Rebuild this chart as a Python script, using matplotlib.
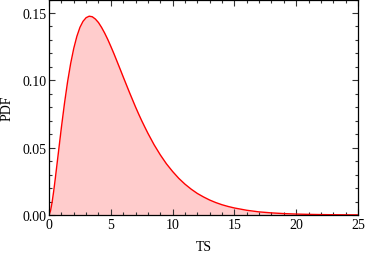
import matplotlib
matplotlib.use("Agg")
import matplotlib.pyplot as plt
from matplotlib.ticker import MultipleLocator

# values
ts = [0, 0.125, 0.25, 0.375, 0.5, 0.75, 1, 1.25, 1.5, 1.75, 2, 2.25, 2.5,
      2.75, 3, 3.25, 3.5, 3.75, 4, 4.25, 4.5, 4.75, 5, 5.25, 5.5, 5.75, 6,
      6.25, 6.5, 6.75, 7, 7.25, 7.5, 7.75, 8, 8.5, 9, 9.5, 10, 10.5, 11,
      11.5, 12, 12.5, 13, 13.5, 14, 14.5, 15, 16, 17, 18, 19, 20, 21, 22,
      23, 24, 25]
pdf = [0, 0.00326, 0.0096, 0.0176, 0.0266, 0.0458, 0.0650, 0.0829, 0.0989,
       0.1125, 0.1237, 0.1326, 0.1393, 0.1438, 0.1465, 0.1476, 0.1472,
       0.1455, 0.1429, 0.1393, 0.1351, 0.1304, 0.1252, 0.1198, 0.1141,
       0.1084, 0.1026, 0.0969, 0.0912, 0.0857, 0.0802, 0.0750, 0.0700,
       0.0653, 0.0607, 0.0522, 0.0447, 0.0380, 0.0323, 0.0272, 0.0229,
       0.0192, 0.0160, 0.0134, 0.0111, 0.0092, 0.0076, 0.0063, 0.0052,
       0.0035, 0.0023, 0.00156, 0.00103, 0.00068, 0.00045, 0.00029,
       0.00019, 0.000125, 0.000081]

plt.rcParams['font.family'] = ['Liberation Serif', 'DejaVu Serif']
plt.rcParams['font.size'] = 10

fig = plt.figure(figsize=(3.66, 2.55), dpi=100)
ax = fig.add_axes([0.134, 0.153, 0.844, 0.845])

ax.fill_between(ts, pdf, 0, color='#ffcccc', linewidth=0)
ax.plot(ts, pdf, color='red', linewidth=1.0)

ax.set_xlim(0, 25)
ax.set_ylim(0, 0.16)
ax.xaxis.set_major_locator(MultipleLocator(5))
ax.xaxis.set_minor_locator(MultipleLocator(1))
ax.yaxis.set_major_locator(MultipleLocator(0.05))
ax.yaxis.set_minor_locator(MultipleLocator(0.01))
ax.yaxis.set_major_formatter(lambda v, p: f"{v:.2f}")
ax.tick_params(which='both', direction='in', top=True, right=True,
               color='#333333', width=0.8, pad=2)
ax.tick_params(which='major', length=4)
ax.tick_params(which='minor', length=2.5)
for s in ax.spines.values():
    s.set_linewidth(0.9)

ax.set_xlabel('TS', labelpad=7)
ax.set_ylabel('PDF', labelpad=6)

fig.savefig('out.png', dpi=100)
